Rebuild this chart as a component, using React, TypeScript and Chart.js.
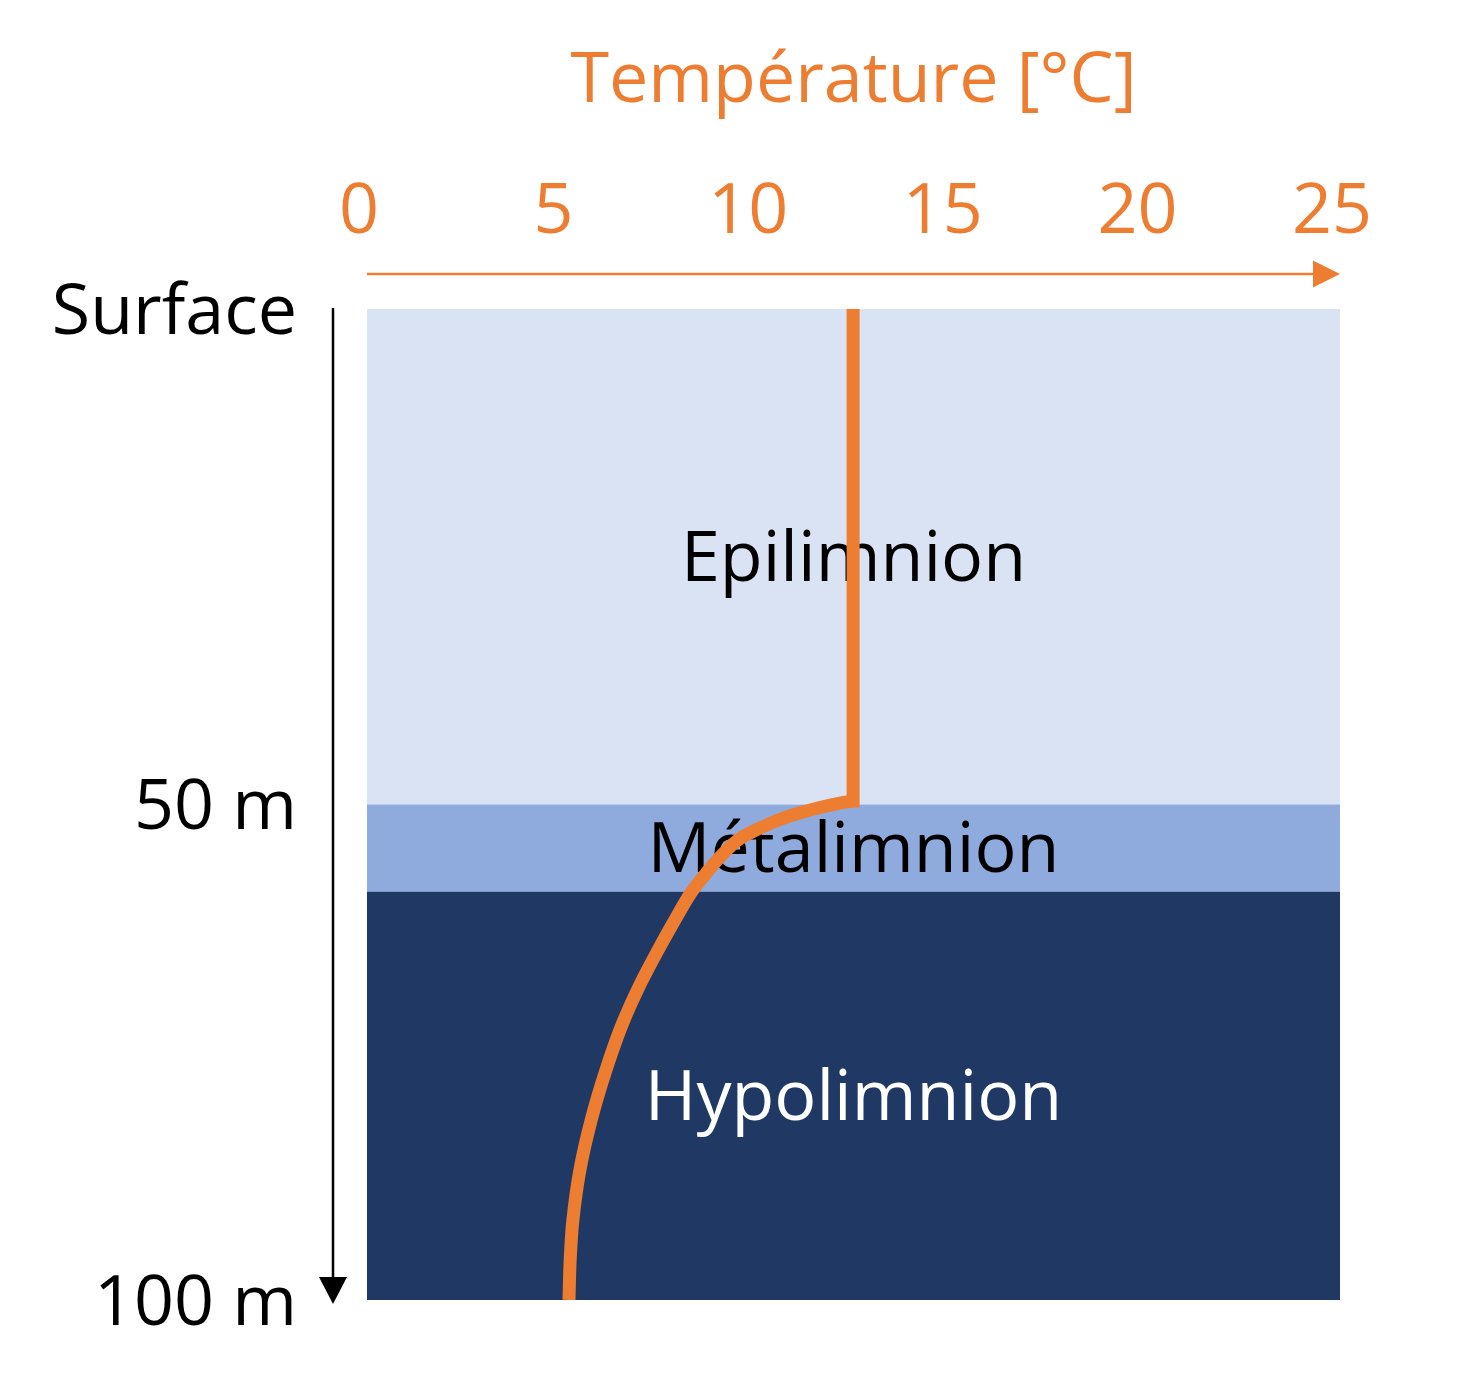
import React, { useEffect, useRef } from 'react';
import { Chart, registerables } from 'chart.js';

Chart.register(...registerables);

const temperatureTicks = [0, 5, 10, 15, 20, 25];
const depthTicks = [0, 50, 100];
const depthTickLabels = ['Surface', '50 m', '100 m'];

const zoneNames = ['Epilimnion', 'Métalimnion', 'Hypolimnion'];
const zoneTop = [0, 50, 58.8];
const zoneBottom = [50, 58.8, 100];
const zoneColors = ['#DAE3F3', '#8FAADC', '#203864'];
const zoneTextColors = ['#000000', '#000000', '#FFFFFF'];

const mixedDepth = [0, 50.3];
const mixedTemp = [12.49, 12.49];
const gradientDepth = [
  49.65, 49.85, 50.25, 50.76, 51.46, 52.37, 53.58, 55.1, 56.81, 58.93,
  61.65, 64.68, 68.21, 72.25, 76.79, 81.84, 86.88, 91.93, 95.96, 100,
];
const gradientTemp = [
  12.49, 12.15, 11.69, 11.2, 10.64, 10.1, 9.53, 9.12, 8.74, 8.32,
  7.91, 7.48, 7.01, 6.55, 6.14, 5.76, 5.47, 5.29, 5.22, 5.19,
];

const ORANGE = '#ED7D31';
const FONT = "'Open Sans', sans-serif";
const FONT_SIZE = 70;

const decorPlugin = {
  id: 'decor',
  beforeDatasetsDraw(chart: any) {
    const { ctx, chartArea, scales } = chart;
    const y = scales.y;
    ctx.save();
    zoneNames.forEach((_, i) => {
      const t = y.getPixelForValue(zoneTop[i]);
      const b = y.getPixelForValue(zoneBottom[i]);
      ctx.fillStyle = zoneColors[i];
      ctx.fillRect(chartArea.left, t, chartArea.right - chartArea.left, b - t);
    });
    ctx.font = `${FONT_SIZE}px ${FONT}`;
    ctx.textAlign = 'center';
    ctx.textBaseline = 'middle';
    const cx = (chartArea.left + chartArea.right) / 2;
    zoneNames.forEach((name, i) => {
      const t = y.getPixelForValue(zoneTop[i]);
      const b = y.getPixelForValue(zoneBottom[i]);
      ctx.fillStyle = zoneTextColors[i];
      ctx.fillText(name, cx, (t + b) / 2 + 4);
    });
    ctx.restore();
  },
  afterDraw(chart: any) {
    const { ctx, chartArea } = chart;
    ctx.save();
    const ay = chartArea.top - 35;
    ctx.strokeStyle = ORANGE;
    ctx.fillStyle = ORANGE;
    ctx.lineWidth = 2.5;
    ctx.beginPath();
    ctx.moveTo(chartArea.left, ay);
    ctx.lineTo(chartArea.right - 26, ay);
    ctx.stroke();
    ctx.beginPath();
    ctx.moveTo(chartArea.right - 27, ay - 13.5);
    ctx.lineTo(chartArea.right, ay);
    ctx.lineTo(chartArea.right - 27, ay + 13.5);
    ctx.closePath();
    ctx.fill();
    const ax = chartArea.left - 34;
    ctx.strokeStyle = '#000000';
    ctx.fillStyle = '#000000';
    ctx.lineWidth = 2.5;
    ctx.beginPath();
    ctx.moveTo(ax, chartArea.top - 1);
    ctx.lineTo(ax, chartArea.bottom - 22);
    ctx.stroke();
    ctx.beginPath();
    ctx.moveTo(ax - 14, chartArea.bottom - 23);
    ctx.lineTo(ax, chartArea.bottom + 4);
    ctx.lineTo(ax + 14, chartArea.bottom - 23);
    ctx.closePath();
    ctx.fill();
    ctx.restore();
  },
};

export default function App() {
  const canvasRef = useRef<HTMLCanvasElement | null>(null);

  useEffect(() => {
    if (!canvasRef.current) return;
    const chart = new Chart(canvasRef.current, {
      type: 'scatter',
      data: {
        datasets: [
          {
            label: 'mixed',
            data: mixedDepth.map((d, i) => ({ x: mixedTemp[i], y: d })),
            showLine: true,
            borderColor: ORANGE,
            borderWidth: 13,
            borderCapStyle: 'butt',
            pointRadius: 0,
            tension: 0,
          },
          {
            label: 'gradient',
            data: gradientDepth.map((d, i) => ({ x: gradientTemp[i], y: d })),
            showLine: true,
            borderColor: ORANGE,
            borderWidth: 13,
            borderCapStyle: 'butt',
            pointRadius: 0,
            tension: 0.3,
          },
        ],
      },
      options: {
        responsive: false,
        animation: false,
        layout: { padding: { left: 0, top: 0, right: 122, bottom: 98 } },
        plugins: {
          legend: { display: false },
          tooltip: { enabled: false },
        },
        scales: {
          x: {
            type: 'linear',
            position: 'top',
            min: 0,
            max: 25,
            grid: { display: false, drawTicks: false },
            border: { display: false },
            afterBuildTicks: (scale: any) => {
              scale.ticks = temperatureTicks.map((v) => ({ value: v }));
            },
            afterFit: (scale: any) => {
              scale.height = 309;
              scale.paddingLeft = 0;
              scale.paddingRight = 0;
            },
            ticks: {
              color: ORANGE,
              padding: 54,
              labelOffset: -8,
              autoSkip: false,
              maxRotation: 0,
              font: { family: FONT, size: FONT_SIZE },
              callback: (v: any) => String(v),
            },
            title: {
              display: true,
              text: 'Température [°C]',
              color: ORANGE,
              font: { family: FONT, size: FONT_SIZE },
              padding: { top: 40, bottom: 0 },
            },
          },
          y: {
            type: 'linear',
            position: 'left',
            reverse: true,
            min: 0,
            max: 100,
            grid: { display: false, drawTicks: false },
            border: { display: false },
            afterBuildTicks: (scale: any) => {
              scale.ticks = depthTicks.map((v) => ({ value: v }));
            },
            afterFit: (scale: any) => {
              scale.width = 367;
              scale.paddingTop = 0;
              scale.paddingBottom = 0;
            },
            ticks: {
              color: '#000000',
              padding: 70,
              labelOffset: 5,
              autoSkip: false,
              font: { family: FONT, size: FONT_SIZE },
              callback: (v: any) => {
                const idx = depthTicks.indexOf(Number(v));
                return idx >= 0 ? depthTickLabels[idx] : '';
              },
            },
          },
        },
      },
      plugins: [decorPlugin],
    } as any);
    return () => chart.destroy();
  }, []);

  return (
    <div style={{ position: 'absolute', left: 0, top: 0, width: 1462, height: 1398, background: '#FFFFFF' }}>
      <canvas ref={canvasRef} width={1462} height={1398} style={{ display: 'block' }} />
    </div>
  );
}
